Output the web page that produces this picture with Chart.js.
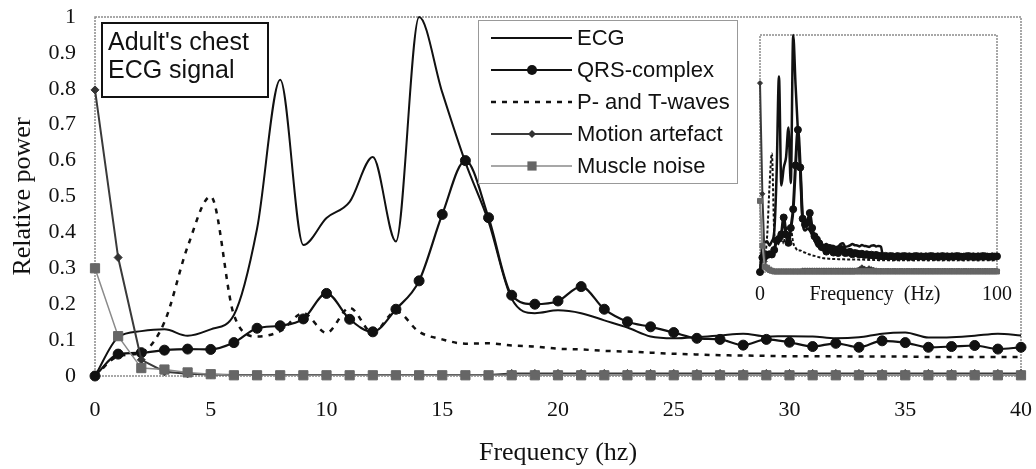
<!DOCTYPE html>
<html>
<head>
<meta charset="utf-8">
<title>ECG power spectrum</title>
<script src="https://cdn.jsdelivr.net/npm/chart.js@4.4.1/dist/chart.umd.min.js"></script>
<style>
  html, body { margin: 0; padding: 0; background: #fff; }
  #wrap { position: relative; width: 1036px; height: 469px; }
  #mainChart { position: absolute; left: 0; top: 0; }
  #insetChart { position: absolute; left: 745px; top: 25px; }
</style>
</head>
<body>
<div id="wrap">
  <canvas id="mainChart" width="1036" height="469"></canvas>
  <canvas id="insetChart" width="270" height="285"></canvas>
</div>
<script>
// frequencies of the main plot (Hz)
const freq = [0, 1, 2, 3, 4, 5, 6, 7, 8, 9, 10, 11, 12, 13, 14, 15, 16, 17, 18, 19, 20,
              21, 22, 23, 24, 25, 26, 27, 28, 29, 30, 31, 32, 33, 34, 35, 36, 37, 38, 39, 40];

const ecg = [0, 0.108, 0.125, 0.13, 0.112, 0.13, 0.17, 0.41, 0.825, 0.365,
             0.44, 0.485, 0.61, 0.375, 1.0, 0.79, 0.595, 0.43, 0.215, 0.175,
             0.183, 0.175, 0.155, 0.135, 0.11, 0.105, 0.108, 0.113, 0.118, 0.11,
             0.111, 0.11, 0.105, 0.108, 0.118, 0.121, 0.107, 0.108, 0.112, 0.118, 0.113];
const qrs = [0, 0.061, 0.065, 0.072, 0.075, 0.074, 0.093, 0.133, 0.14, 0.159,
             0.23, 0.158, 0.123, 0.186, 0.265, 0.45, 0.6, 0.441, 0.225, 0.2,
             0.209, 0.249, 0.186, 0.151, 0.137, 0.121, 0.105, 0.102, 0.086, 0.102,
             0.094, 0.082, 0.091, 0.08, 0.098, 0.093, 0.08, 0.082, 0.085, 0.075, 0.08];
const pt = [0, 0.055, 0.065, 0.15, 0.36, 0.5, 0.17, 0.11, 0.125, 0.175,
            0.12, 0.19, 0.12, 0.18, 0.123, 0.102, 0.09, 0.091, 0.085, 0.082,
            0.076, 0.074, 0.07, 0.068, 0.065, 0.062, 0.06, 0.058, 0.057, 0.056,
            0.055, 0.055, 0.055, 0.054, 0.054, 0.054, 0.053, 0.053, 0.053, 0.053, 0.053];
const motion = [0.797, 0.33, 0.045, 0.012, 0.006, 0.004, 0.003, 0.003, 0.003, 0.003,
                0.003, 0.003, 0.003, 0.003, 0.003, 0.003, 0.003, 0.003, 0.007, 0.007,
                0.007, 0.007, 0.007, 0.007, 0.007, 0.007, 0.007, 0.007, 0.007, 0.007,
                0.007, 0.007, 0.007, 0.007, 0.007, 0.007, 0.007, 0.007, 0.007, 0.007, 0.007];
const muscle = [0.3, 0.111, 0.022, 0.018, 0.01, 0.005, 0.002, 0.002, 0.002, 0.002,
                0.002, 0.002, 0.002, 0.002, 0.002, 0.002, 0.002, 0.002, 0.002, 0.002,
                0.002, 0.002, 0.002, 0.002, 0.002, 0.002, 0.002, 0.002, 0.002, 0.002,
                0.002, 0.002, 0.002, 0.002, 0.002, 0.002, 0.002, 0.002, 0.002, 0.002, 0.002];

// rest of the spectrum, only shown in the inset (41..100 Hz)
const freqTail = [41, 42, 43, 44, 45, 46, 47, 48, 49, 50, 51, 52, 53, 54, 55, 56, 57, 58, 59, 60,
                  61, 62, 63, 64, 65, 66, 67, 68, 69, 70, 71, 72, 73, 74, 75, 76, 77, 78, 79, 80,
                  81, 82, 83, 84, 85, 86, 87, 88, 89, 90, 91, 92, 93, 94, 95, 96, 97, 98, 99, 100];
const ecgTail = [0.112, 0.108, 0.114, 0.11, 0.109, 0.106, 0.111, 0.113, 0.108, 0.11, 0.107,
                 0.062, 0.06, 0.063, 0.061, 0.062, 0.059, 0.061, 0.063, 0.06, 0.062,
                 0.061, 0.06, 0.062, 0.063, 0.061, 0.06, 0.062, 0.061, 0.059, 0.061,
                 0.062, 0.06, 0.061, 0.063, 0.062, 0.06, 0.061, 0.062, 0.06, 0.061,
                 0.063, 0.061, 0.06, 0.062, 0.061, 0.06, 0.062, 0.061, 0.063, 0.06,
                 0.061, 0.062, 0.06, 0.061, 0.062, 0.06, 0.061, 0.062, 0.061];
const qrsTail = [0.078, 0.074, 0.077, 0.072, 0.075, 0.071, 0.073, 0.069, 0.072, 0.068,
                 0.067, 0.066, 0.068, 0.065, 0.067, 0.066, 0.064, 0.067, 0.065, 0.066,
                 0.067, 0.065, 0.066, 0.064, 0.066, 0.067, 0.065, 0.066, 0.064, 0.066,
                 0.065, 0.067, 0.066, 0.064, 0.066, 0.065, 0.067, 0.065, 0.066, 0.064,
                 0.066, 0.065, 0.067, 0.066, 0.064, 0.065, 0.066, 0.067, 0.065, 0.066,
                 0.064, 0.066, 0.065, 0.067, 0.066, 0.065, 0.064, 0.066, 0.065, 0.066];
const ptTail = [0.053, 0.052, 0.053, 0.052, 0.052, 0.051, 0.052, 0.051, 0.051, 0.05,
                0.05, 0.05, 0.049, 0.05, 0.05, 0.049, 0.05, 0.05, 0.049, 0.05,
                0.05, 0.049, 0.05, 0.05, 0.049, 0.05, 0.05, 0.049, 0.05, 0.05,
                0.049, 0.05, 0.05, 0.049, 0.05, 0.05, 0.049, 0.05, 0.05, 0.049,
                0.05, 0.05, 0.049, 0.05, 0.05, 0.049, 0.05, 0.05, 0.049, 0.05,
                0.05, 0.049, 0.05, 0.05, 0.049, 0.05, 0.05, 0.049, 0.05, 0.05];
const motionTail = [0.008, 0.012, 0.02, 0.015, 0.01, 0.016, 0.012, 0.009, 0.007, 0.006,
                    0.006, 0.005, 0.006, 0.006, 0.005, 0.006, 0.006, 0.005, 0.006, 0.006,
                    0.005, 0.006, 0.006, 0.005, 0.006, 0.006, 0.005, 0.006, 0.006, 0.005,
                    0.006, 0.006, 0.005, 0.006, 0.006, 0.005, 0.006, 0.006, 0.005, 0.006,
                    0.006, 0.005, 0.006, 0.006, 0.005, 0.006, 0.006, 0.005, 0.006, 0.006,
                    0.005, 0.006, 0.006, 0.005, 0.006, 0.006, 0.005, 0.006, 0.006, 0.005];
const muscleTail = [0.003, 0.002, 0.003, 0.002, 0.003, 0.002, 0.003, 0.002, 0.003, 0.002,
                    0.003, 0.002, 0.003, 0.002, 0.003, 0.002, 0.003, 0.002, 0.003, 0.002,
                    0.003, 0.002, 0.003, 0.002, 0.003, 0.002, 0.003, 0.002, 0.003, 0.002,
                    0.003, 0.002, 0.003, 0.002, 0.003, 0.002, 0.003, 0.002, 0.003, 0.002,
                    0.003, 0.002, 0.003, 0.002, 0.003, 0.002, 0.003, 0.002, 0.003, 0.002,
                    0.003, 0.002, 0.003, 0.002, 0.003, 0.002, 0.003, 0.002, 0.003, 0.002];

const seriesNames = ['ECG', 'QRS-complex', 'P- and T-waves', 'Motion artefact', 'Muscle noise'];
const noteLines = ["Adult's chest", 'ECG signal'];
const insetTickValues = [0, 48.5, 100];
const insetTickLabels = ['0', 'Frequency  (Hz)', '100'];

const serif = '"Liberation Serif", "Times New Roman", serif';
const sans = '"Liberation Sans", Arial, sans-serif';

// one dataset per series; "small" is the inset version
function buildSets(xs, series, small) {
  const pts = arr => xs.map((x, i) => ({ x: x, y: arr[i] }));
  const sets = [
    { borderColor: '#111', borderWidth: small ? 2.5 : 2, pointRadius: 0,
      cubicInterpolationMode: 'monotone', order: 5 },
    { borderColor: '#111', backgroundColor: '#111', borderWidth: small ? 3 : 2.2,
      pointStyle: 'circle', pointRadius: small ? 3.5 : 5, pointBorderWidth: 1,
      cubicInterpolationMode: 'monotone', order: 4 },
    { borderColor: '#111', borderWidth: small ? 2 : 2.5, borderDash: small ? [3, 2] : [5, 6],
      pointRadius: 0, cubicInterpolationMode: 'monotone', order: 3 },
    { borderColor: '#3a3a3a', backgroundColor: '#333', borderWidth: 2,
      pointStyle: 'rectRot', pointRadius: small ? 2.5 : 4, pointBorderWidth: 1,
      tension: 0, order: 2 },
    { borderColor: '#8a8a8a', backgroundColor: '#666', borderWidth: small ? 2 : 1.5,
      pointStyle: 'rect', pointRadius: small ? 3.5 : 6.5, pointBorderWidth: 1,
      tension: 0, order: 1 }
  ];
  return sets.map((s, i) => Object.assign({
    label: seriesNames[i], data: pts(series[i]), fill: false, clip: false,
    pointHoverRadius: 0, pointBorderColor: s.backgroundColor || s.borderColor
  }, s));
}

// dotted grey box round the plot area
const frame = {
  id: 'frame',
  beforeDatasetsDraw(chart) {
    const { ctx, chartArea: a } = chart;
    ctx.save();
    ctx.strokeStyle = '#8c8c8c';
    ctx.lineWidth = 1.5;
    ctx.setLineDash([2, 1]);
    ctx.strokeRect(a.left, a.top, a.right - a.left, a.bottom - a.top);
    ctx.restore();
  }
};

function marker(ctx, style, x, y, r) {
  ctx.beginPath();
  if (style === 'circle') {
    ctx.arc(x, y, r, 0, Math.PI * 2);
  } else if (style === 'rectRot') {
    ctx.moveTo(x - r, y); ctx.lineTo(x, y - r); ctx.lineTo(x + r, y); ctx.lineTo(x, y + r);
    ctx.closePath();
  } else {
    const s = r * Math.SQRT1_2;
    ctx.rect(x - s, y - s, 2 * s, 2 * s);
  }
  ctx.fill();
}

// legend with line samples + the note box, drawn on the main canvas
const legendAndNote = {
  id: 'legendAndNote',
  afterDraw(chart) {
    const ctx = chart.ctx;
    ctx.save();
    ctx.fillStyle = '#fff';
    ctx.fillRect(478, 20, 259, 163);
    ctx.strokeStyle = '#999';
    ctx.lineWidth = 1;
    ctx.strokeRect(478.5, 20.5, 259, 163);
    ctx.font = '22px ' + sans;
    ctx.textBaseline = 'middle';
    chart.data.datasets.forEach((ds, i) => {
      const y = 38 + i * 32;
      ctx.strokeStyle = ds.borderColor;
      ctx.lineWidth = ds.borderWidth;
      ctx.setLineDash(ds.borderDash || []);
      ctx.beginPath();
      ctx.moveTo(491, y);
      ctx.lineTo(572, y);
      ctx.stroke();
      ctx.setLineDash([]);
      if (ds.pointRadius > 0) {
        ctx.fillStyle = ds.backgroundColor;
        marker(ctx, ds.pointStyle, 532, y, ds.pointRadius);
      }
      ctx.fillStyle = '#111';
      ctx.fillText(ds.label, 577, y + 1);
    });

    ctx.fillStyle = '#fff';
    ctx.fillRect(102, 23, 166, 74);
    ctx.strokeStyle = '#111';
    ctx.lineWidth = 2;
    ctx.strokeRect(102, 23, 166, 74);
    ctx.font = '25px ' + sans;
    ctx.textBaseline = 'alphabetic';
    ctx.fillStyle = '#111';
    noteLines.forEach((t, i) => ctx.fillText(t, 108, 50 + i * 28));
    ctx.restore();
  }
};

new Chart(document.getElementById('mainChart'), {
  type: 'line',
  data: { datasets: buildSets(freq, [ecg, qrs, pt, motion, muscle], false) },
  options: {
    responsive: false,
    animation: false,
    events: [],
    layout: { padding: { left: 0, right: 15, top: 17, bottom: 0 } },
    plugins: { legend: { display: false }, tooltip: { enabled: false } },
    scales: {
      x: {
        type: 'linear', min: 0, max: 40,
        afterFit(s) { s.height = 93; s.paddingLeft = 0; s.paddingRight = 0; },
        grid: { display: false, drawTicks: false },
        border: { display: false },
        ticks: { stepSize: 5, padding: 21, maxRotation: 0, color: '#111',
                 font: { family: serif, size: 22 } },
        title: { display: true, text: 'Frequency (hz)', color: '#111',
                 font: { family: serif, size: 26 }, padding: { top: 0, bottom: 0 } }
      },
      y: {
        min: 0, max: 1,
        afterFit(s) { s.width = 95; s.paddingTop = 0; s.paddingBottom = 0; },
        grid: { display: false, drawTicks: false },
        border: { display: false },
        ticks: { stepSize: 0.1, padding: 19, color: '#111',
                 font: { family: serif, size: 22 },
                 callback: v => String(Math.round(v * 10) / 10) },
        title: { display: true, text: 'Relative power', color: '#111',
                 font: { family: serif, size: 26 }, padding: { top: 8, bottom: 0 } }
      }
    }
  },
  plugins: [frame, legendAndNote]
});

// inset: whole 0-100 Hz spectrum
new Chart(document.getElementById('insetChart'), {
  type: 'line',
  data: {
    datasets: buildSets(freq.concat(freqTail), [
      ecg.concat(ecgTail), qrs.concat(qrsTail), pt.concat(ptTail),
      motion.concat(motionTail), muscle.concat(muscleTail)
    ], true)
  },
  options: {
    responsive: false,
    animation: false,
    events: [],
    layout: { padding: { left: 15, right: 18, top: 10, bottom: 0 } },
    plugins: { legend: { display: false }, tooltip: { enabled: false } },
    scales: {
      x: {
        type: 'linear', min: 0, max: 100,
        afterFit(s) { s.height = 38; s.paddingLeft = 0; s.paddingRight = 0; },
        afterBuildTicks(s) { s.ticks = insetTickValues.map(v => ({ value: v })); },
        grid: { display: false, drawTicks: false },
        border: { display: false },
        ticks: { autoSkip: false, maxRotation: 0, padding: 11, color: '#111',
                 font: { family: serif, size: 20 },
                 callback: (v, i) => insetTickLabels[i] }
      },
      y: { display: false, min: 0, max: 1 }
    }
  },
  plugins: [frame]
});
</script>
</body>
</html>
